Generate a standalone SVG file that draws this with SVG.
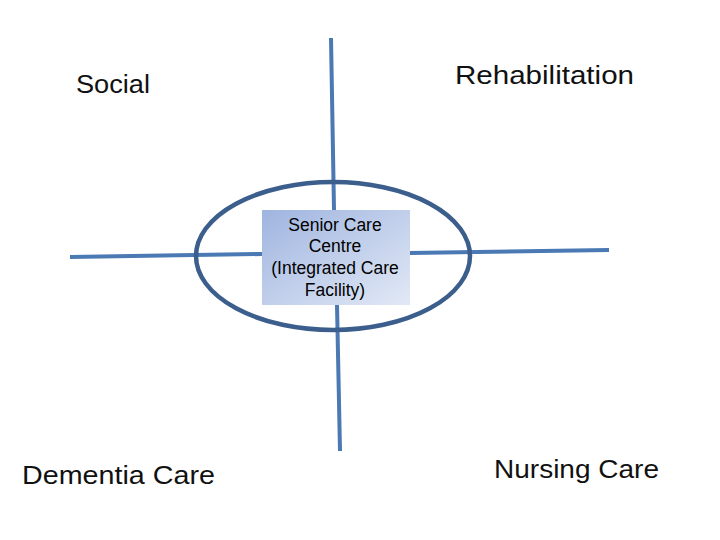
<svg xmlns="http://www.w3.org/2000/svg" width="720" height="540" viewBox="0 0 720 540">
<defs>
<linearGradient id="g" x1="0" y1="0" x2="1" y2="1">
<stop offset="0" stop-color="#9fb4df"/>
<stop offset="1" stop-color="#e2e9f6"/>
</linearGradient>
<style>
.ln{stroke:#4a79b3;stroke-width:4;fill:none;stroke-linecap:butt}
.lbl{font-family:"Liberation Sans",Arial,sans-serif;font-size:25px;fill:#111}
.bt{font-family:"Liberation Sans",Arial,sans-serif;font-size:17.5px;fill:#000;text-anchor:middle}
</style>
</defs>
<rect width="720" height="540" fill="#fff"/>
<g id="connectors">
<line class="ln" x1="331" y1="38" x2="334" y2="210"/>
<line class="ln" x1="337" y1="305" x2="340" y2="451"/>
<line class="ln" x1="70" y1="257" x2="262" y2="254"/>
<line class="ln" x1="410" y1="253" x2="609" y2="250"/>
</g>
<g id="ring">
<ellipse cx="333" cy="256" rx="137" ry="74" fill="none" stroke="#3b5e8c" stroke-width="4.5"/>
</g>
<g id="centre">
<rect x="262" y="210" width="148" height="95" fill="url(#g)"/>
<text class="bt" x="335" y="231">Senior Care</text>
<text class="bt" x="335" y="252">Centre</text>
<text class="bt" x="335" y="274">(Integrated Care</text>
<text class="bt" x="335" y="296">Facility)</text>
</g>
<g id="social"><text class="lbl" x="76" y="93" textLength="74" lengthAdjust="spacingAndGlyphs">Social</text></g>
<g id="rehab"><text class="lbl" x="455" y="84" textLength="179" lengthAdjust="spacingAndGlyphs">Rehabilitation</text></g>
<g id="dementia"><text class="lbl" x="22" y="484" textLength="193" lengthAdjust="spacingAndGlyphs">Dementia Care</text></g>
<g id="nursing"><text class="lbl" x="494" y="478" textLength="165" lengthAdjust="spacingAndGlyphs">Nursing Care</text></g>
</svg>
